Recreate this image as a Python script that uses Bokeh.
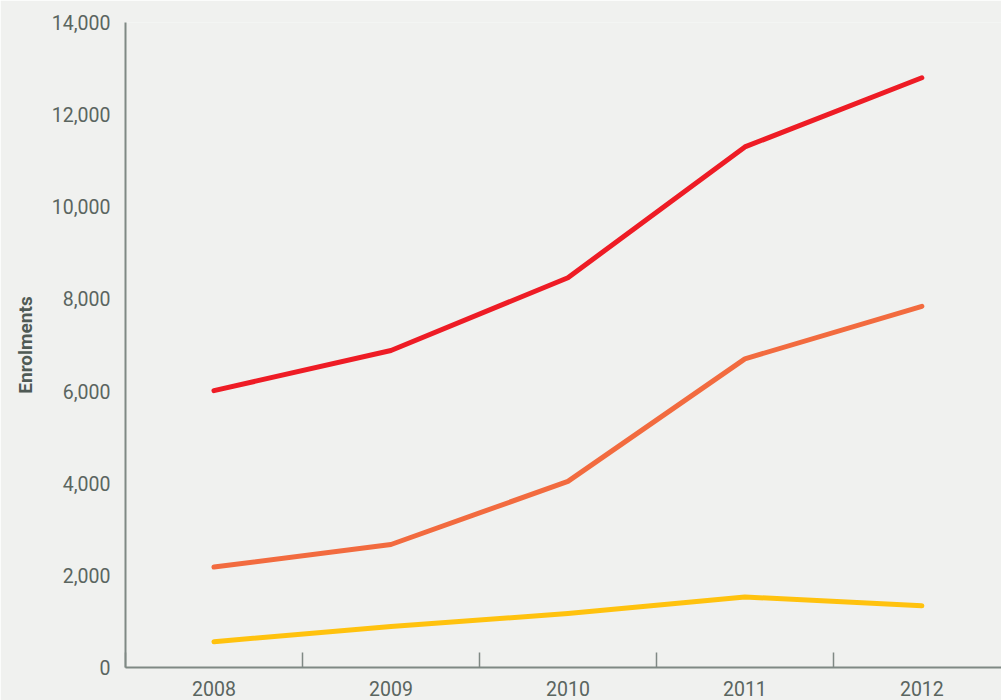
from bokeh.plotting import figure
from bokeh.models import Range1d, FixedTicker, NumeralTickFormatter
from bokeh.embed import file_html
from bokeh.resources import INLINE

years = [2008, 2009, 2010, 2011, 2012]
series_a = [6010, 6880, 8460, 11300, 12800]
series_b = [2180, 2670, 4040, 6700, 7840]
series_c = [560, 890, 1170, 1530, 1340]
colors = ["#ee1c25", "#f26b3f", "#ffc20e"]
y_ticks = [0, 2000, 4000, 6000, 8000, 10000, 12000, 14000]

BG = "#f0f1ef"
TXT = "#5a6560"
AX = "#7f8984"

p = figure(width=1001, height=700, output_backend="svg", toolbar_location=None,
           x_range=Range1d(years[0] - 0.5, years[-1] + 0.45),
           y_range=Range1d(0, 14000),
           background_fill_color=BG, border_fill_color=BG,
           min_border_left=125, min_border_top=22, min_border_bottom=33, min_border_right=0)
p.outline_line_color = None
p.grid.visible = False

for vals, c in zip([series_a, series_b, series_c], colors):
    p.line(years, vals, line_color=c, line_width=5, line_cap="round", line_join="round")

xa = p.xaxis[0]
xa.ticker = FixedTicker(ticks=years, minor_ticks=[y - 0.5 for y in years])
xa.formatter = NumeralTickFormatter(format="0")
xa.major_tick_in = 0
xa.major_tick_out = 0
xa.minor_tick_in = 15
xa.minor_tick_out = 0
xa.minor_tick_line_color = AX
xa.minor_tick_line_width = 1.5
xa.axis_line_color = AX
xa.axis_line_width = 2
xa.major_label_text_font = "Roboto"
xa.major_label_text_font_size = "19.5px"
xa.major_label_text_color = TXT
xa.major_label_standoff = 13

ya = p.yaxis[0]
ya.ticker = FixedTicker(ticks=y_ticks)
ya.formatter = NumeralTickFormatter(format="0,0")
ya.major_tick_in = 0
ya.major_tick_out = 0
ya.minor_tick_line_color = None
ya.axis_line_color = AX
ya.axis_line_width = 2
ya.major_label_text_font = "Roboto"
ya.major_label_text_font_size = "19.5px"
ya.major_label_text_color = TXT
ya.major_label_standoff = 15
ya.axis_label = "Enrolments"
ya.axis_label_text_font = "Roboto"
ya.axis_label_text_font_style = "bold"
ya.axis_label_text_font_size = "19px"
ya.axis_label_text_color = "#4f5a55"
ya.axis_label_standoff = 12

open("out.html", "w").write(file_html(p, INLINE))
